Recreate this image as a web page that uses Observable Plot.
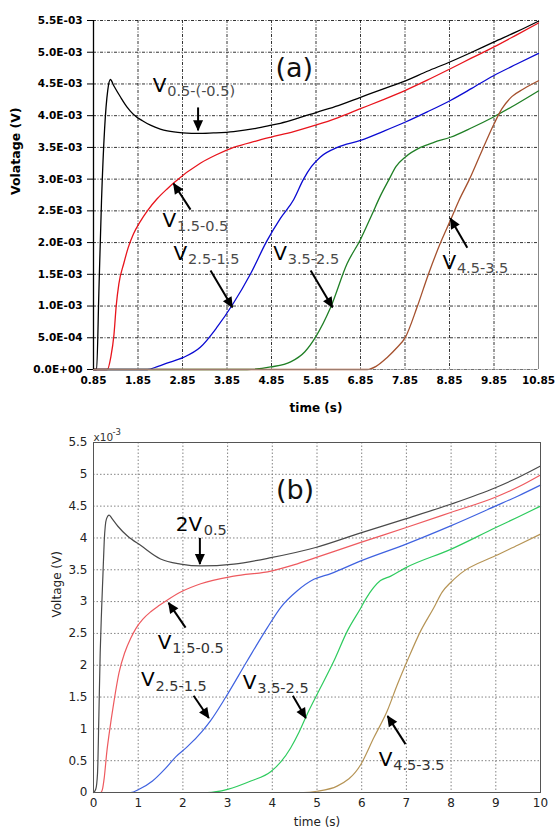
<!DOCTYPE html>
<html>
<head>
<meta charset="utf-8">
<script src="https://cdn.jsdelivr.net/npm/d3@7"></script>
<script src="https://cdn.jsdelivr.net/npm/@observablehq/plot@0.6"></script>
<style>
  body { margin: 0; background: #fff; }
  #wrap { width: 557px; height: 827px; overflow: hidden; }
</style>
</head>
<body>
<div id="wrap"><div id="pa"></div><div id="pb"></div></div>
<script>
// ---------- Panel (a) data: time (s), voltage (x1e-3 V) ----------
const xTicksA = [0.85, 1.85, 2.85, 3.85, 4.85, 5.85, 6.85, 7.85, 8.85, 9.85, 10.85];
const yTicksA = [0, 0.5, 1, 1.5, 2, 2.5, 3, 3.5, 4, 4.5, 5, 5.5];
const yTickLabelsA = ["0.0E+00", "5.0E-04", "1.0E-03", "1.5E-03", "2.0E-03", "2.5E-03",
  "3.0E-03", "3.5E-03", "4.0E-03", "4.5E-03", "5.0E-03", "5.5E-03"];

const a_V05 = [[0.85,0],[0.92,0],[0.97,1.2],[1.03,2.66],[1.10,3.8],[1.17,4.4],[1.23,4.57],[1.30,4.48],
  [1.46,4.29],[1.60,4.14],[1.75,4.02],[1.95,3.92],[2.13,3.85],[2.35,3.79],[2.51,3.76],[2.85,3.73],
  [3.25,3.72],[3.6,3.73],[4.0,3.75],[4.5,3.80],[4.85,3.85],[5.05,3.88],[5.45,3.96],[5.85,4.05],
  [6.35,4.16],[6.85,4.29],[7.35,4.42],[7.86,4.55],[8.35,4.70],[8.87,4.85],[9.35,5.00],[9.84,5.16],
  [10.35,5.32],[10.85,5.49]];
const a_V15 = [[0.85,0],[1.16,0],[1.24,0.2],[1.31,0.55],[1.36,1.0],[1.42,1.35],[1.53,1.67],[1.63,1.92],
  [1.75,2.14],[1.9,2.33],[2.06,2.5],[2.28,2.69],[2.51,2.85],[2.65,2.94],[3.25,3.25],[3.6,3.38],
  [4.0,3.50],[4.5,3.60],[4.83,3.66],[5.35,3.75],[5.84,3.85],[6.35,3.97],[6.85,4.11],[7.35,4.25],
  [7.86,4.40],[8.35,4.56],[8.87,4.74],[9.35,4.91],[9.84,5.08],[10.35,5.27],[10.85,5.46]];
const a_V25 = [[0.85,0],[2.06,0],[2.3,0.05],[2.5,0.1],[2.87,0.19],[3.25,0.35],[3.63,0.67],[3.99,1.04],
  [4.38,1.51],[4.75,2.03],[5.05,2.38],[5.35,2.68],[5.57,3.0],[5.75,3.2],[5.95,3.35],[6.33,3.50],
  [6.85,3.61],[7.35,3.75],[7.86,3.90],[8.35,4.06],[8.87,4.24],[9.35,4.43],[9.84,4.63],[10.35,4.81],
  [10.85,4.98]];
const a_V35 = [[0.85,0],[4.3,0],[4.83,0.04],[5.28,0.12],[5.6,0.28],[5.84,0.51],[6.18,0.98],[6.55,1.67],
  [6.85,2.05],[7.1,2.43],[7.30,2.74],[7.48,2.98],[7.65,3.2],[7.86,3.35],[8.2,3.50],[8.5,3.58],
  [8.87,3.66],[9.35,3.81],[9.84,3.98],[10.35,4.18],[10.85,4.39]];
const a_V45 = [[0.85,0],[7.0,0],[7.2,0.05],[7.45,0.19],[7.65,0.33],[7.86,0.51],[8.12,0.98],[8.38,1.51],
  [8.65,2.0],[8.87,2.35],[9.06,2.66],[9.3,3.0],[9.55,3.40],[9.85,3.87],[10.03,4.11],[10.25,4.30],
  [10.51,4.42],[10.85,4.55]];

const labelsA = [
  {t: 2.18, v: 4.38, main: "V", sub: "0.5-(-0.5)"},
  {t: 2.40, v: 2.25, main: "V", sub: "1.5-0.5"},
  {t: 2.65, v: 1.73, main: "V", sub: "2.5-1.5"},
  {t: 4.89, v: 1.73, main: "V", sub: "3.5-2.5"},
  {t: 8.69, v: 1.59, main: "V", sub: "4.5-3.5"}
];
const arrowsA = [
  {t1: 3.20, v1: 4.13, t2: 3.20, v2: 3.77},
  {t1: 3.03, v1: 2.52, t2: 2.65, v2: 2.93},
  {t1: 3.48, v1: 1.56, t2: 3.97, v2: 0.98},
  {t1: 5.73, v1: 1.56, t2: 6.22, v2: 0.98},
  {t1: 9.25, v1: 1.92, t2: 8.87, v2: 2.38}
];
const panelLabelA = [{t: 4.94, v: 4.61, text: "(a)"}];

// ---------- Panel (b) data: time (s), voltage (x1e-3 V) ----------
const xTicksB = [0, 1, 2, 3, 4, 5, 6, 7, 8, 9, 10];
const yTicksB = [0, 0.5, 1, 1.5, 2, 2.5, 3, 3.5, 4, 4.5, 5, 5.5];

const b_2V05 = [[0,0],[0.05,0.05],[0.09,0.3],[0.12,1.2],[0.15,2.2],[0.18,2.85],[0.21,3.4],[0.24,3.95],
  [0.29,4.3],[0.35,4.36],[0.42,4.30],[0.55,4.18],[0.76,4.03],[1.06,3.88],[1.5,3.67],[1.95,3.59],
  [2.4,3.56],[3.14,3.59],[3.97,3.69],[4.97,3.85],[5.98,4.08],[6.98,4.30],[7.99,4.53],[8.99,4.79],
  [9.5,4.95],[10,5.13]];
const b_V15 = [[0,0],[0.16,0],[0.2,0.05],[0.24,0.23],[0.30,0.65],[0.35,0.92],[0.46,1.44],[0.57,1.88],
  [0.70,2.20],[0.83,2.42],[0.95,2.58],[1.10,2.72],[1.28,2.84],[1.45,2.93],[1.62,3.01],[1.95,3.15],
  [2.4,3.28],[3.14,3.40],[3.97,3.48],[4.5,3.58],[4.97,3.69],[5.98,3.93],[6.98,4.16],[7.99,4.40],
  [8.99,4.64],[9.5,4.80],[10,4.99]];
const b_V25 = [[0,0],[0.83,0],[1.02,0.05],[1.32,0.18],[1.6,0.37],[1.84,0.56],[2.1,0.72],[2.44,0.97],
  [2.62,1.13],[2.96,1.50],[3.44,2.07],[3.89,2.59],[4.19,2.91],[4.56,3.17],[4.93,3.35],[5.31,3.44],
  [5.98,3.64],[6.98,3.90],[7.99,4.19],[8.99,4.50],[9.5,4.66],[10,4.83]];
const b_V35 = [[0,0],[2.55,0],[3.0,0.05],[3.52,0.18],[3.97,0.33],[4.19,0.48],[4.41,0.70],[4.6,0.95],
  [4.78,1.23],[5.0,1.54],[5.38,2.07],[5.68,2.54],[5.98,2.90],[6.1,3.05],[6.42,3.33],[6.65,3.40],
  [6.98,3.53],[7.99,3.82],[8.99,4.16],[9.5,4.33],[10,4.50]];
const b_V45 = [[0,0],[4.7,0],[5.0,0.02],[5.45,0.10],[5.98,0.44],[6.27,0.86],[6.57,1.28],[6.80,1.70],
  [7.02,2.07],[7.32,2.54],[7.61,2.90],[7.8,3.15],[7.99,3.30],[8.21,3.44],[8.99,3.72],[9.5,3.89],[10,4.06]];

const labelsB = [
  {t: 1.84, v: 4.11, main: "2V", sub: "0.5"},
  {t: 1.44, v: 2.26, main: "V", sub: "1.5-0.5"},
  {t: 1.06, v: 1.67, main: "V", sub: "2.5-1.5"},
  {t: 3.34, v: 1.63, main: "V", sub: "3.5-2.5"},
  {t: 6.38, v: 0.42, main: "V", sub: "4.5-3.5"}
];
const arrowsB = [
  {t1: 2.38, v1: 4.00, t2: 2.38, v2: 3.59},
  {t1: 2.06, v1: 2.59, t2: 1.68, v2: 2.98},
  {t1: 2.24, v1: 1.52, t2: 2.58, v2: 1.17},
  {t1: 4.46, v1: 1.52, t2: 4.75, v2: 1.17},
  {t1: 6.98, v1: 0.76, t2: 6.58, v2: 1.20}
];
const panelLabelB = [{t: 4.08, v: 4.61, text: "(b)"}];

// ---------- helpers ----------
const FONT = "DejaVu Sans";
function triHead(color, context) {
  const doc = (context && context.document) || document;
  const ns = "http://www.w3.org/2000/svg";
  const m = doc.createElementNS(ns, "marker");
  m.setAttribute("viewBox", "-12 -6 14 12");
  m.setAttribute("markerWidth", "14");
  m.setAttribute("markerHeight", "12");
  m.setAttribute("markerUnits", "userSpaceOnUse");
  m.setAttribute("orient", "auto");
  m.setAttribute("refX", "0");
  m.setAttribute("refY", "0");
  m.setAttribute("overflow", "visible");
  const p = doc.createElementNS(ns, "path");
  p.setAttribute("d", "M-10,-5L1,0L-10,5Z");
  p.setAttribute("fill", "#000");
  p.setAttribute("stroke", "none");
  m.appendChild(p);
  return m;
}
const mainWidth = {"V": 14.5, "2V": 28};
function labelMarks(rows, subFill) {
  const marks = [
    Plot.text(rows, {x: "t", y: "v", text: "main", textAnchor: "start", lineAnchor: "bottom",
      fontSize: 20, fill: "#000", fontFamily: FONT})
  ];
  for (const key of Object.keys(mainWidth)) {
    const sel = rows.filter(d => d.main === key);
    if (!sel.length) continue;
    marks.push(Plot.text(sel, {x: "t", y: "v", text: "sub", textAnchor: "start", lineAnchor: "bottom",
      dx: mainWidth[key], dy: 4.5, fontSize: 14.5, fill: subFill, fontFamily: FONT}));
  }
  return marks;
}
function arrowMarks(rows) {
  return Plot.link(rows, {x1: "t1", y1: "v1", x2: "t2", y2: "v2", stroke: "#000", strokeWidth: 2,
    markerEnd: triHead});
}
const CURVE = "monotone-x";

// ---------- Panel (a) ----------
const yLabMapA = new Map(yTicksA.map((d, i) => [d, yTickLabelsA[i]]));
const plotA = Plot.plot({
  width: 557, height: 420,
  marginTop: 20, marginBottom: 51, marginLeft: 93, marginRight: 19,
  x: {domain: [0.85, 10.85]},
  y: {domain: [0, 5.5]},
  style: {fontFamily: FONT, background: "#fff", overflow: "visible"},
  marks: [
    Plot.gridX(xTicksA, {stroke: "#000", strokeOpacity: 0.8, strokeDasharray: "3,1.5,1,1.5"}),
    Plot.gridY(yTicksA, {stroke: "#000", strokeOpacity: 0.8, strokeDasharray: "3,1.5,1,1.5"}),
    Plot.ruleX([10.85], {stroke: "#888", strokeWidth: 1}),
    Plot.axisY(yTicksA, {tickFormat: d => yLabMapA.get(d), tickSize: 6, tickPadding: 5,
      fontSize: 10.5, fontWeight: "bold", color: "#000", label: null}),
    Plot.axisX(xTicksA, {tickFormat: d => d.toFixed(2), tickSize: 0, tickPadding: 7,
      fontSize: 10.5, fontWeight: "bold", color: "#000", label: null}),
    Plot.line(a_V05, {stroke: "#000", strokeWidth: 1.3, curve: CURVE}),
    Plot.line(a_V15, {stroke: "#e8141c", strokeWidth: 1.3, curve: CURVE}),
    Plot.line(a_V25, {stroke: "#0a0ad2", strokeWidth: 1.3, curve: CURVE}),
    Plot.line(a_V35, {stroke: "#1f7f25", strokeWidth: 1.3, curve: CURVE}),
    Plot.line(a_V45, {stroke: "#a5512e", strokeWidth: 1.3, curve: CURVE}),
    Plot.ruleY([0], {stroke: "#999", strokeWidth: 1, strokeOpacity: 0.6}),
    Plot.ruleX([0.85], {stroke: "#000", strokeWidth: 1.3}),
    Plot.text(panelLabelA, {x: "t", y: "v", text: "text", textAnchor: "start", lineAnchor: "bottom",
      fontSize: 27, fill: "#111", fontFamily: FONT}),
    ...labelMarks(labelsA, "#4a4a4a"),
    arrowMarks(arrowsA),
    Plot.text(["time (s)"], {frameAnchor: "bottom", dy: 42, fontSize: 12, fontWeight: "bold",
      fill: "#000", fontFamily: FONT}),
    Plot.text(["Volatage (V)"], {frameAnchor: "left", dx: -78, rotate: -90, fontSize: 12.5,
      fontWeight: "bold", fill: "#000", fontFamily: FONT})
  ]
});
document.getElementById("pa").appendChild(plotA);

// ---------- Panel (b) ----------
const plotB = Plot.plot({
  width: 557, height: 407,
  marginTop: 22, marginBottom: 35, marginLeft: 93, marginRight: 17,
  x: {domain: [0, 10]},
  y: {domain: [0, 5.5]},
  style: {fontFamily: FONT, background: "#fff", overflow: "visible"},
  marks: [
    Plot.gridX(xTicksB, {stroke: "#777", strokeOpacity: 0.9, strokeDasharray: "1.5,2"}),
    Plot.gridY(yTicksB, {stroke: "#777", strokeOpacity: 0.9, strokeDasharray: "1.5,2"}),
    Plot.axisY(yTicksB, {tickFormat: d => String(d), tickSize: 0, tickPadding: 6,
      fontSize: 12, color: "#222", label: null}),
    Plot.axisX(xTicksB, {tickFormat: d => String(d), tickSize: 0, tickPadding: 6,
      fontSize: 12, color: "#222", label: null}),
    Plot.line(b_2V05, {stroke: "#4a4a4a", strokeWidth: 1.2, curve: CURVE}),
    Plot.line(b_V15, {stroke: "#ee5a5f", strokeWidth: 1.2, curve: CURVE}),
    Plot.line(b_V25, {stroke: "#3f62e0", strokeWidth: 1.2, curve: CURVE}),
    Plot.line(b_V35, {stroke: "#2ecb5e", strokeWidth: 1.2, curve: CURVE}),
    Plot.line(b_V45, {stroke: "#b69455", strokeWidth: 1.2, curve: CURVE}),
    Plot.frame({stroke: "#555", strokeWidth: 1}),
    Plot.text(panelLabelB, {x: "t", y: "v", text: "text", textAnchor: "start", lineAnchor: "bottom",
      fontSize: 27, fill: "#111", fontFamily: FONT}),
    ...labelMarks(labelsB, "#333"),
    arrowMarks(arrowsB),
    Plot.text(["x10"], {frameAnchor: "top-left", textAnchor: "start", lineAnchor: "bottom", dy: -2,
      fontSize: 10.5, fill: "#333", fontFamily: FONT}),
    Plot.text(["-3"], {frameAnchor: "top-left", textAnchor: "start", lineAnchor: "bottom", dx: 19, dy: -8,
      fontSize: 8.5, fill: "#333", fontFamily: FONT}),
    Plot.text(["time (s)"], {frameAnchor: "bottom", lineAnchor: "bottom", dy: 33, fontSize: 12,
      fill: "#222", fontFamily: FONT}),
    Plot.text(["Voltage (V)"], {frameAnchor: "left", dx: -36, rotate: -90, fontSize: 12,
      fill: "#222", fontFamily: FONT})
  ]
});
document.getElementById("pb").appendChild(plotB);
</script>
</body>
</html>
